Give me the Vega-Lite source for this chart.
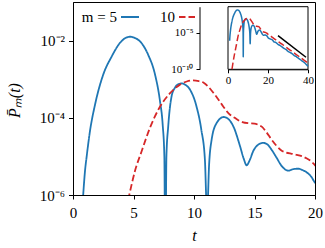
{
"$schema":"https://vega.github.io/schema/vega-lite/v6.json",
"width":242,"height":193,
"autosize":{"type":"none"},
"padding":{"left":73,"top":2,"right":10,"bottom":53},
"config":{"font":"Liberation Serif","view":{"stroke":"black","strokeWidth":1},
 "text":{"font":"Liberation Serif"},
 "legend":{"labelFont":"Liberation Serif","titleFont":"Liberation Serif"},
 "axis":{"grid":false,"domainColor":"black","tickColor":"black","labelColor":"black","titleColor":"black","labelFont":"Liberation Serif","titleFont":"Liberation Serif","titleFontWeight":"normal"}},
"datasets":{
"curves":[
{"t":0.82,"P":7.94e-7,"m":"5"},{"t":1.0,"P":4.47e-6,"m":"5"},{"t":1.13,"P":1e-5,"m":"5"},{"t":1.4,"P":4.47e-5,"m":"5"},{"t":1.82,"P":2.19e-4,"m":"5"},{"t":2.5,"P":1.32e-3,"m":"5"},{"t":3.2,"P":3.89e-3,"m":"5"},{"t":3.88,"P":8.71e-3,"m":"5"},{"t":4.3,"P":1.148e-2,"m":"5"},{"t":4.71,"P":1.26e-2,"m":"5"},{"t":5.1,"P":1.175e-2,"m":"5"},{"t":5.54,"P":9.55e-3,"m":"5"},{"t":6.2,"P":4.37e-3,"m":"5"},{"t":6.78,"P":1.32e-3,"m":"5"},{"t":7.19,"P":2.69e-4,"m":"5"},{"t":7.41,"P":6.76e-5,"m":"5"},{"t":7.55,"P":1e-5,"m":"5"},{"t":7.63,"P":5.01e-9,"m":"5"},{"t":7.72,"P":1e-5,"m":"5"},{"t":7.87,"P":6.03e-5,"m":"5"},{"t":8.15,"P":3.63e-4,"m":"5"},{"t":8.43,"P":6.03e-4,"m":"5"},{"t":8.7,"P":7.41e-4,"m":"5"},{"t":8.98,"P":7.76e-4,"m":"5"},{"t":9.3,"P":7.08e-4,"m":"5"},{"t":9.67,"P":5.37e-4,"m":"5"},{"t":10.2,"P":2.0e-4,"m":"5"},{"t":10.6,"P":5.01e-5,"m":"5"},{"t":10.9,"P":8.32e-6,"m":"5"},{"t":11.08,"P":3.16e-7,"m":"5"},{"t":11.25,"P":6.31e-6,"m":"5"},{"t":11.46,"P":2.75e-5,"m":"5"},{"t":11.88,"P":7.41e-5,"m":"5"},{"t":12.45,"P":1.05e-4,"m":"5"},{"t":12.9,"P":8.91e-5,"m":"5"},{"t":13.25,"P":6.03e-5,"m":"5"},{"t":13.8,"P":1.86e-5,"m":"5"},{"t":14.1,"P":8.91e-6,"m":"5"},{"t":14.35,"P":5.89e-6,"m":"5"},{"t":14.6,"P":7.94e-6,"m":"5"},{"t":14.9,"P":1.38e-5,"m":"5"},{"t":15.3,"P":2.0e-5,"m":"5"},{"t":15.73,"P":2.24e-5,"m":"5"},{"t":16.1,"P":2.0e-5,"m":"5"},{"t":16.4,"P":1.51e-5,"m":"5"},{"t":16.8,"P":9.55e-6,"m":"5"},{"t":17.25,"P":5.62e-6,"m":"5"},{"t":17.8,"P":4.27e-6,"m":"5"},{"t":18.2,"P":4.68e-6,"m":"5"},{"t":18.6,"P":4.79e-6,"m":"5"},{"t":19.0,"P":4.37e-6,"m":"5"},{"t":19.3,"P":3.89e-6,"m":"5"},{"t":19.7,"P":2.95e-6,"m":"5"},{"t":20.0,"P":2.09e-6,"m":"5"},{"t":21,"P":1.41e-6,"m":"5"},{"t":22,"P":1.12e-6,"m":"5"},{"t":23,"P":5.62e-7,"m":"5"},{"t":24,"P":4.47e-7,"m":"5"},{"t":25,"P":2.51e-7,"m":"5"},{"t":26,"P":1.78e-7,"m":"5"},{"t":27,"P":1.12e-7,"m":"5"},{"t":28,"P":7.08e-8,"m":"5"},{"t":29,"P":5.01e-8,"m":"5"},{"t":30,"P":2.82e-8,"m":"5"},{"t":31,"P":2.0e-8,"m":"5"},{"t":32,"P":1.41e-8,"m":"5"},{"t":33,"P":7.94e-9,"m":"5"},{"t":34,"P":5.62e-9,"m":"5"},{"t":35,"P":3.55e-9,"m":"5"},{"t":36,"P":2.24e-9,"m":"5"},{"t":37,"P":1.41e-9,"m":"5"},{"t":38,"P":8.91e-10,"m":"5"},{"t":39,"P":5.01e-10,"m":"5"},{"t":40,"P":2.51e-10,"m":"5"},
{"t":2.0,"P":1.05e-10,"m":"10"},{"t":2.5,"P":7.94e-10,"m":"10"},{"t":3.0,"P":5.01e-9,"m":"10"},{"t":3.5,"P":2.51e-8,"m":"10"},{"t":4.0,"P":1.12e-7,"m":"10"},{"t":4.65,"P":1e-6,"m":"10"},{"t":5.12,"P":4.17e-6,"m":"10"},{"t":5.68,"P":1.38e-5,"m":"10"},{"t":6.36,"P":5.5e-5,"m":"10"},{"t":7.05,"P":1.62e-4,"m":"10"},{"t":8.0,"P":4.27e-4,"m":"10"},{"t":8.84,"P":7.24e-4,"m":"10"},{"t":9.4,"P":8.71e-4,"m":"10"},{"t":9.94,"P":9.33e-4,"m":"10"},{"t":10.4,"P":8.91e-4,"m":"10"},{"t":10.8,"P":8.13e-4,"m":"10"},{"t":11.2,"P":6.31e-4,"m":"10"},{"t":11.6,"P":4.47e-4,"m":"10"},{"t":12.0,"P":3.02e-4,"m":"10"},{"t":12.4,"P":2.0e-4,"m":"10"},{"t":12.9,"P":1.26e-4,"m":"10"},{"t":13.36,"P":1.0e-4,"m":"10"},{"t":13.7,"P":8.51e-5,"m":"10"},{"t":14.0,"P":7.76e-5,"m":"10"},{"t":14.5,"P":7.24e-5,"m":"10"},{"t":15.0,"P":7.08e-5,"m":"10"},{"t":15.3,"P":6.61e-5,"m":"10"},{"t":15.6,"P":5.89e-5,"m":"10"},{"t":16.0,"P":4.17e-5,"m":"10"},{"t":16.4,"P":2.75e-5,"m":"10"},{"t":16.8,"P":1.91e-5,"m":"10"},{"t":17.25,"P":1.41e-5,"m":"10"},{"t":17.6,"P":1.26e-5,"m":"10"},{"t":18.07,"P":1.17e-5,"m":"10"},{"t":18.5,"P":1.10e-5,"m":"10"},{"t":18.9,"P":1.02e-5,"m":"10"},{"t":19.3,"P":8.91e-6,"m":"10"},{"t":19.7,"P":7.41e-6,"m":"10"},{"t":20.0,"P":5.89e-6,"m":"10"},{"t":21,"P":3.98e-6,"m":"10"},{"t":22,"P":2.51e-6,"m":"10"},{"t":23,"P":1.58e-6,"m":"10"},{"t":24,"P":1e-6,"m":"10"},{"t":25,"P":6.31e-7,"m":"10"},{"t":26,"P":3.98e-7,"m":"10"},{"t":27,"P":2.69e-7,"m":"10"},{"t":28,"P":1.66e-7,"m":"10"},{"t":29,"P":1.07e-7,"m":"10"},{"t":30,"P":6.76e-8,"m":"10"},{"t":31,"P":4.27e-8,"m":"10"},{"t":32,"P":2.75e-8,"m":"10"},{"t":33,"P":1.74e-8,"m":"10"},{"t":34,"P":1.12e-8,"m":"10"},{"t":35,"P":7.08e-9,"m":"10"},{"t":36,"P":4.47e-9,"m":"10"},{"t":37,"P":2.82e-9,"m":"10"},{"t":38,"P":1.78e-9,"m":"10"},{"t":39,"P":1.12e-9,"m":"10"},{"t":40,"P":6.76e-10,"m":"10"}
],
"guide":[{"t":25,"P":3.89e-6},{"t":39,"P":4.37e-9}],
"frame":[{"t0":0,"t1":40,"p0":1e-10,"p1":0.0347}]
},
"layer":[
{"data":{"name":"curves"},
 "mark":{"type":"line","clip":true,"strokeWidth":1.8,"interpolate":"monotone"},
 "encoding":{
  "x":{"field":"t","type":"quantitative","scale":{"domain":[0,20],"nice":false,"zero":false},
   "axis":{"values":[0,5,10,15,20],"tickSize":4,"labelPadding":6,"labelFontSize":15,"labelFlush":false,"title":"t","titleFontStyle":"italic","titleFontSize":16,"titleBaseline":"alphabetic","titleY":45}},
  "y":{"field":"P","type":"quantitative","scale":{"type":"log","domain":[1e-6,0.1],"nice":false},
   "axis":{"values":[1e-6,1e-4,1e-2],"labelExpr":"datum.value < 3e-6 ? '10⁻⁶' : datum.value < 3e-4 ? '10⁻⁴' : '10⁻²'","tickSize":4.5,"labelPadding":4,"labelFontSize":15,"labelAlign":"right","title":"P̄ₘ(t)","titleFontStyle":"italic","titleFontSize":16,"titleX":-59,"titleY":98,"titleAlign":"center","titleBaseline":"middle","titleAngle":-90}},
  "color":{"field":"m","type":"nominal","scale":{"domain":["5","10"],"range":["#1f77b4","#d62728"]},
   "legend":{"orient":"none","legendX":47,"legendY":5,"direction":"horizontal","title":null,"labelExpr":"datum.label == '5' ? 'm = 5' : '10'","labelAlign":"right","labelOffset":-23,"symbolType":"stroke","symbolSize":324,"symbolStrokeWidth":2,"labelFontSize":15,"labelColor":"black","columnPadding":17,"padding":0}},
  "strokeDash":{"field":"m","type":"nominal","scale":{"domain":["5","10"],"range":[[1,0],[6.5,3]]},
   "legend":{"orient":"none","legendX":47,"legendY":5,"direction":"horizontal","title":null,"labelExpr":"datum.label == '5' ? 'm = 5' : '10'","labelAlign":"right","labelOffset":-23,"symbolType":"stroke","symbolSize":324,"symbolStrokeWidth":2,"labelFontSize":15,"labelColor":"black","columnPadding":17,"padding":0}}
 }},
{"layer":[
  {"data":{"name":"frame"},"mark":{"type":"rect","fill":"white","stroke":"black","strokeWidth":1},
   "encoding":{
    "x":{"field":"t0","type":"quantitative","scale":{"domain":[0,40],"range":[155,235],"nice":false,"zero":false},
     "axis":{"orient":"bottom","offset":-125.7,"values":[0,20,40],"tickSize":3.5,"labelPadding":2,"labelFontSize":11,"labelFlush":false,"title":null}},
    "x2":{"field":"t1"},
    "y":{"field":"p0","type":"quantitative","scale":{"type":"log","domain":[1e-10,0.0347],"range":[67.3,4.7],"nice":false},
     "axis":{"orient":"left","offset":-126.5,"values":[1e-10,1e-5],"labelExpr":"datum.value < 1e-7 ? '10⁻¹⁰' : '10⁻⁵'","labelAlign":"right","tickSize":3.5,"labelPadding":3,"labelFontSize":11,"title":null}},
    "y2":{"field":"p1"}}},
  {"data":{"name":"curves"},"mark":{"type":"line","strokeWidth":1.5,"interpolate":"monotone"},
   "encoding":{
    "x":{"field":"t","type":"quantitative","axis":{"orient":"bottom","offset":-125.7,"values":[0,20,40],"tickSize":3.5,"labelPadding":2,"labelFontSize":11,"labelFlush":false,"title":null}},
    "y":{"field":"P","type":"quantitative","axis":{"orient":"left","offset":-126.5,"values":[1e-10,1e-5],"labelExpr":"datum.value < 1e-7 ? '10⁻¹⁰' : '10⁻⁵'","labelAlign":"right","tickSize":3.5,"labelPadding":3,"labelFontSize":11,"title":null}},
    "color":{"field":"m","type":"nominal","scale":{"domain":["5","10"],"range":["#1f77b4","#d62728"]},
     "legend":{"orient":"none","legendX":47,"legendY":5,"direction":"horizontal","title":null,"labelExpr":"datum.label == '5' ? 'm = 5' : '10'","labelAlign":"right","labelOffset":-23,"symbolType":"stroke","symbolSize":324,"symbolStrokeWidth":2,"labelFontSize":15,"labelColor":"black","columnPadding":17,"padding":0}},
    "strokeDash":{"field":"m","type":"nominal","scale":{"domain":["5","10"],"range":[[1,0],[6.5,3]]},
     "legend":{"orient":"none","legendX":47,"legendY":5,"direction":"horizontal","title":null,"labelExpr":"datum.label == '5' ? 'm = 5' : '10'","labelAlign":"right","labelOffset":-23,"symbolType":"stroke","symbolSize":324,"symbolStrokeWidth":2,"labelFontSize":15,"labelColor":"black","columnPadding":17,"padding":0}}
   }},
  {"data":{"name":"guide"},"mark":{"type":"line","color":"black","strokeWidth":1.5},
   "encoding":{
    "x":{"field":"t","type":"quantitative","axis":{"orient":"bottom","offset":-125.7,"values":[0,20,40],"tickSize":3.5,"labelPadding":2,"labelFontSize":11,"labelFlush":false,"title":null}},
    "y":{"field":"P","type":"quantitative","axis":{"orient":"left","offset":-126.5,"values":[1e-10,1e-5],"labelExpr":"datum.value < 1e-7 ? '10⁻¹⁰' : '10⁻⁵'","labelAlign":"right","tickSize":3.5,"labelPadding":3,"labelFontSize":11,"title":null}}}}
 ]}
],
"resolve":{"scale":{"x":"independent","y":"independent"}}
}
